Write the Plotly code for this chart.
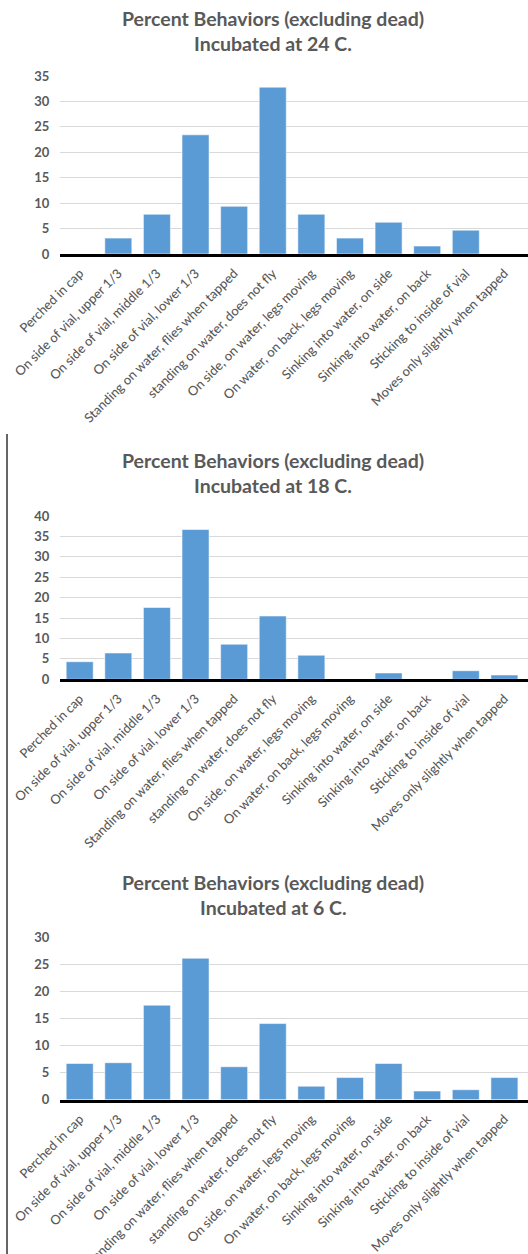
import plotly.graph_objects as go

W, H = 528, 1254

categories = [
    "Perched in cap",
    "On side of vial, upper 1/3",
    "On side of vial, middle 1/3",
    "On side of vial, lower 1/3",
    "Standing on water, flies when tapped",
    "standing on water, does not fly",
    "On side, on water, legs moving",
    "On water, on back, legs moving",
    "Sinking into water, on side",
    "Sinking into water, on back",
    "Sticking to inside of vial",
    "Moves only slightly when tapped",
]

pct_24c = [0, 3.125, 7.8125, 23.4375, 9.375, 32.8125, 7.8125, 3.125, 6.25, 1.5625, 4.6875, 0]
pct_18c = [4.3, 6.45, 17.6, 36.7, 8.6, 15.5, 5.9, 0, 1.55, 0, 2.1, 1.05]
pct_6c = [6.7, 6.85, 17.5, 26.2, 6.1, 14.1, 2.5, 4.1, 6.7, 1.6, 1.85, 4.1]

title_line1 = "Percent Behaviors (excluding dead)"
title_line2 = ["Incubated at 24 C.", "Incubated at 18 C.", "Incubated at 6 C."]

y_max = [35, 40, 30]
y_ticks = [list(range(0, 36, 5)), list(range(0, 41, 5)), list(range(0, 31, 5))]

# pixel rows of each panel: (top of value axis, zero line)
panel_px = [(76, 254), (516, 679.3), (937.7, 1099.7)]
title_px = [(18.9, 43.7), (460.3, 485.7), (882.2, 907.0)]

BAR = "#5B9BD5"
GRID = "#D9D9D9"
TXT = "#595959"
FONT = "Lato"

def py(px):
    return 1 - px / H

fig = go.Figure()
series = [pct_24c, pct_18c, pct_6c]
x_left = 60.4 / W
step_px = 38.61
x_hi = -0.5 + (W - 60.4) / step_px

annotations = []
for i, vals in enumerate(series):
    sfx = "" if i == 0 else str(i + 1)
    fig.add_trace(go.Bar(
        x=list(range(len(categories))), y=vals,
        xaxis="x" + sfx, yaxis="y" + sfx,
        marker=dict(color=BAR, line=dict(color="rgba(255,255,255,0.55)", width=1)),
        showlegend=False, hoverinfo="y",
    ))
    top, zero = panel_px[i]
    fig.update_layout(**{
        "xaxis" + sfx: dict(
            domain=[x_left, 1], range=[-0.5, x_hi], anchor="y" + sfx,
            tickmode="array", tickvals=list(range(len(categories))), ticktext=categories,
            tickangle=-45, showgrid=False, zeroline=False, automargin=False,
            showline=True, linecolor="#000000", linewidth=2.5,
            ticks="", ticklabelstandoff=4,
            tickfont=dict(family=FONT, size=13, color=TXT, weight=500),
            fixedrange=True,
        ),
        "yaxis" + sfx: dict(
            domain=[py(zero), py(top)], range=[0, y_max[i]], anchor="x" + sfx,
            tickmode="array", tickvals=y_ticks[i], automargin=False,
            showgrid=True, gridcolor=GRID, gridwidth=1, zeroline=False,
            showline=False, ticks="", ticklabelstandoff=10,
            tickfont=dict(family=FONT, size=13, color=TXT, weight="bold"),
            fixedrange=True,
        ),
    })
    t1, t2 = title_px[i]
    for txt, yy in ((title_line1, t1), (title_line2[i], t2)):
        annotations.append(dict(
            text=txt, xref="paper", yref="paper", x=273 / W, y=py(yy),
            xanchor="center", yanchor="middle", showarrow=False,
            font=dict(family=FONT, size=19.5, color=TXT, weight="bold"),
        ))

fig.update_layout(
    width=W, height=H,
    margin=dict(l=0, r=0, t=0, b=0, autoexpand=False),
    paper_bgcolor="white", plot_bgcolor="white",
    bargap=0.30,
    annotations=annotations,
    shapes=[dict(type="line", xref="paper", yref="paper",
                 x0=7 / W, x1=7 / W, y0=0, y1=py(434),
                 line=dict(color="#333333", width=1.5))],
)

fig.write_html("out.html")
